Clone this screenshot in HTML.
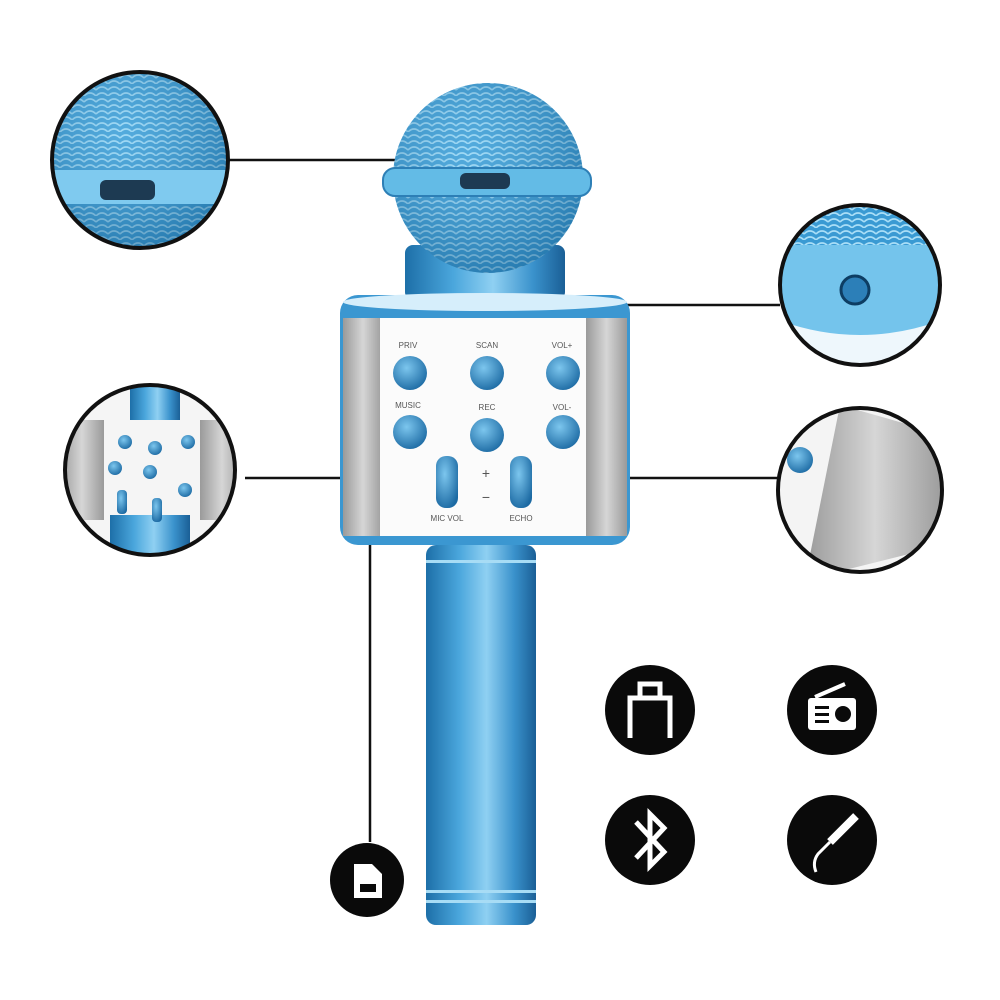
<!DOCTYPE html>
<html><head><meta charset="utf-8"><style>
html,body{margin:0;padding:0;background:#fff;width:1000px;height:1000px;overflow:hidden}
svg{display:block}
text{font-family:"Liberation Sans",sans-serif}
</style></head><body>
<svg width="1000" height="1000" viewBox="0 0 1000 1000" xmlns="http://www.w3.org/2000/svg">
<defs>
<linearGradient id="hg" x1="0" x2="1" y1="0" y2="0">
<stop offset="0" stop-color="#1d6fa8"/><stop offset="0.3" stop-color="#4aa6dc"/><stop offset="0.55" stop-color="#8fd0f2"/><stop offset="0.8" stop-color="#3a92cc"/><stop offset="1" stop-color="#1a5f96"/></linearGradient>
<linearGradient id="gr" x1="0" x2="1"><stop offset="0" stop-color="#9a9a9a"/><stop offset="0.5" stop-color="#d6d6d6"/><stop offset="1" stop-color="#9a9a9a"/></linearGradient>
<pattern id="mesh" width="12" height="12" patternUnits="userSpaceOnUse"><rect width="12" height="12" fill="#3a9ad3"/><path d="M0 6 Q6 0 12 6 M0 12 Q6 6 12 12" stroke="#a9def7" stroke-width="1.6" fill="none"/></pattern>
<radialGradient id="head" cx="0.4" cy="0.35" r="0.7"><stop offset="0" stop-color="#8fd3f5" stop-opacity="0.3"/><stop offset="1" stop-color="#135b8c" stop-opacity="0.5"/></radialGradient>
<radialGradient id="btn" cx="0.4" cy="0.35" r="0.7"><stop offset="0" stop-color="#7cc6ee"/><stop offset="1" stop-color="#1c6aa3"/></radialGradient>
<clipPath id="c1"><circle cx="140" cy="160" r="88"/></clipPath>
<clipPath id="c2"><circle cx="150" cy="470" r="85"/></clipPath>
<clipPath id="c3"><circle cx="860" cy="285" r="80"/></clipPath>
<clipPath id="c4"><circle cx="860" cy="490" r="82"/></clipPath>
</defs>

<g stroke="#111" stroke-width="2.5" fill="none">
<line x1="228" y1="160" x2="405" y2="160"/>
<line x1="480" y1="305" x2="780" y2="305"/>
<line x1="245" y1="478" x2="408" y2="478"/>
<line x1="628" y1="478" x2="780" y2="478"/>
<line x1="370" y1="545" x2="370" y2="842"/>
</g>

<rect x="426" y="545" width="110" height="380" rx="10" fill="url(#hg)"/>
<rect x="426" y="560" width="110" height="3" fill="#a7dcf5"/>
<rect x="426" y="890" width="110" height="3" fill="#a7dcf5"/>
<rect x="426" y="900" width="110" height="3" fill="#a7dcf5"/>

<rect x="405" y="245" width="160" height="55" rx="8" fill="url(#hg)"/>

<ellipse cx="488" cy="178" rx="95" ry="95" fill="url(#mesh)"/>
<ellipse cx="488" cy="178" rx="95" ry="95" fill="url(#head)"/>
<rect x="383" y="168" width="208" height="28" rx="12" fill="#63bbe6" stroke="#2d7fb6" stroke-width="2"/>
<rect x="460" y="173" width="50" height="16" rx="6" fill="#1d3a52"/>

<rect x="340" y="295" width="290" height="250" rx="18" fill="#3b97d1"/>
<ellipse cx="485" cy="302" rx="142" ry="9" fill="#d6eefb"/>
<rect x="343" y="318" width="40" height="218" fill="url(#gr)"/>
<rect x="586" y="318" width="41" height="218" fill="url(#gr)"/>
<rect x="380" y="318" width="206" height="218" fill="#fbfbfb"/>
<g font-size="8" fill="#555" text-anchor="middle">
<text x="408" y="348">PRIV</text><text x="487" y="348">SCAN</text><text x="562" y="348">VOL+</text>
<text x="408" y="408">MUSIC</text><text x="487" y="410">REC</text><text x="562" y="410">VOL-</text>
<text x="447" y="521">MIC VOL</text><text x="521" y="521">ECHO</text>
<text x="486" y="478" font-size="14">+</text><text x="486" y="502" font-size="14">−</text>
</g>
<g fill="url(#btn)">
<circle cx="410" cy="373" r="17"/><circle cx="487" cy="373" r="17"/><circle cx="563" cy="373" r="17"/>
<circle cx="410" cy="432" r="17"/><circle cx="487" cy="435" r="17"/><circle cx="563" cy="432" r="17"/>
<rect x="436" y="456" width="22" height="52" rx="10"/><rect x="510" y="456" width="22" height="52" rx="10"/>
</g>

<g clip-path="url(#c1)">
<circle cx="140" cy="160" r="88" fill="url(#mesh)"/>
<circle cx="140" cy="160" r="88" fill="url(#head)"/>
<rect x="50" y="170" width="180" height="34" fill="#7fcaef"/>
<rect x="100" y="180" width="55" height="20" rx="6" fill="#1d3a52"/>
</g>
<circle cx="140" cy="160" r="88" fill="none" stroke="#111" stroke-width="4"/>

<g clip-path="url(#c2)">
<circle cx="150" cy="470" r="85" fill="#f5f5f5"/>
<rect x="60" y="420" width="44" height="100" fill="url(#gr)"/>
<rect x="200" y="420" width="44" height="100" fill="url(#gr)"/>
<rect x="130" y="380" width="50" height="40" fill="url(#hg)"/>
<rect x="110" y="515" width="80" height="50" fill="url(#hg)"/>
<g fill="url(#btn)"><circle cx="125" cy="442" r="7"/><circle cx="155" cy="448" r="7"/><circle cx="188" cy="442" r="7"/>
<circle cx="115" cy="468" r="7"/><circle cx="150" cy="472" r="7"/><circle cx="185" cy="490" r="7"/>
<rect x="117" y="490" width="10" height="24" rx="4"/><rect x="152" y="498" width="10" height="24" rx="4"/></g>
</g>
<circle cx="150" cy="470" r="85" fill="none" stroke="#111" stroke-width="4"/>

<g clip-path="url(#c3)">
<circle cx="860" cy="285" r="80" fill="#eef7fc"/>
<rect x="780" y="200" width="160" height="45" fill="url(#mesh)"/>
<path d="M778 245 L942 245 L942 320 Q860 350 778 320 Z" fill="#74c4ec"/>
<circle cx="855" cy="290" r="14" fill="#2c7fb8" stroke="#0d3d63" stroke-width="3"/>
</g>
<circle cx="860" cy="285" r="80" fill="none" stroke="#111" stroke-width="4"/>

<g clip-path="url(#c4)">
<circle cx="860" cy="490" r="82" fill="#f4f4f4"/>
<path d="M840 405 L945 435 L945 545 L805 580 Z" fill="url(#gr)"/>
<circle cx="800" cy="460" r="13" fill="url(#btn)"/>
</g>
<circle cx="860" cy="490" r="82" fill="none" stroke="#111" stroke-width="4"/>

<g fill="#0a0a0a">
<circle cx="367" cy="880" r="37"/>
<circle cx="650" cy="710" r="45"/><circle cx="832" cy="710" r="45"/>
<circle cx="650" cy="840" r="45"/><circle cx="832" cy="840" r="45"/>
</g>
<path d="M354 864 L372 864 L382 874 L382 898 L354 898 Z" fill="#fff"/>
<rect x="360" y="884" width="16" height="8" fill="#0a0a0a"/>
<g stroke="#fff" stroke-width="5" fill="none"><path d="M630 738 L630 698 L670 698 L670 738"/><rect x="640" y="684" width="20" height="14"/></g>
<rect x="808" y="698" width="48" height="32" rx="3" fill="#fff"/>
<line x1="815" y1="697" x2="845" y2="684" stroke="#fff" stroke-width="4"/>
<circle cx="843" cy="714" r="8" fill="#0a0a0a"/>
<rect x="815" y="706" width="14" height="3" fill="#0a0a0a"/><rect x="815" y="713" width="14" height="3" fill="#0a0a0a"/><rect x="815" y="720" width="14" height="3" fill="#0a0a0a"/>
<path d="M636 822 L664 852 L650 866 L650 814 L664 828 L636 858" stroke="#fff" stroke-width="5" fill="none"/>
<path d="M856 816 L830 842" stroke="#fff" stroke-width="8"/>
<path d="M830 842 L818 854 Q812 862 816 872" stroke="#fff" stroke-width="3" fill="none"/>
</svg>
</body></html>
